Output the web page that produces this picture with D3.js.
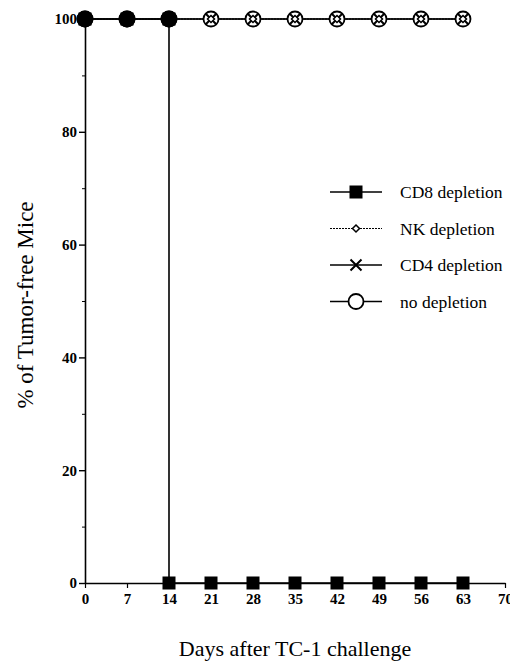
<!DOCTYPE html>
<html>
<head>
<meta charset="utf-8">
<script src="https://cdn.jsdelivr.net/npm/d3@7"></script>
<style>
  body { margin: 0; background: #fff; }
  text { font-family: "Liberation Serif", "DejaVu Serif", serif; fill: #000; }
</style>
</head>
<body>
<div id="chart"></div>
<script>
// days after challenge
var days = [0, 7, 14, 21, 28, 35, 42, 49, 56, 63];
// % tumor-free per group
var cd8 = [[0, 100], [7, 100], [14, 100], [14, 0], [21, 0], [28, 0], [35, 0], [42, 0], [49, 0], [56, 0], [63, 0]];
var nk = [100, 100, 100, 100, 100, 100, 100, 100, 100, 100];
var cd4 = [100, 100, 100, 100, 100, 100, 100, 100, 100, 100];
var noDep = [100, 100, 100, 100, 100, 100, 100, 100, 100, 100];
var xTicks = [0, 7, 14, 21, 28, 35, 42, 49, 56, 63, 70];
var yTicks = [0, 20, 40, 60, 80, 100];
var yMinor = [10, 30, 50, 70, 90];
var legendNames = ["CD8 depletion", "NK depletion", "CD4 depletion", "no depletion"];

var w = 510, h = 662;

var svg = d3.select("#chart").append("svg")
  .attr("width", w)
  .attr("height", h);

var x = d3.scaleLinear().domain([0, 70]).range([85, 505]);
var y = d3.scaleLinear().domain([0, 100]).range([583, 19]);

// axes
svg.append("g")
  .attr("transform", "translate(0," + y(0) + ")")
  .call(d3.axisBottom(x).tickValues(xTicks).tickSize(5).tickSizeOuter(0))
  .call(function(g) {
    g.select(".domain").attr("stroke-width", 1.6);
    g.selectAll(".tick line").attr("stroke-width", 1.2);
    g.selectAll("text").attr("font-size", "15px").attr("font-weight", "bold")
      .attr("font-family", "Liberation Serif").attr("dy", "0.85em");
  });

svg.append("g")
  .attr("transform", "translate(" + x(0) + ",0)")
  .call(d3.axisLeft(y).tickValues(yTicks).tickSize(6).tickSizeOuter(0).tickPadding(2))
  .call(function(g) {
    g.select(".domain").attr("stroke-width", 1.6);
    g.selectAll(".tick line").attr("stroke-width", 1.4);
    g.selectAll("text").attr("font-size", "15px").attr("font-weight", "bold")
      .attr("font-family", "Liberation Serif");
  });

svg.append("g")
  .attr("transform", "translate(" + x(0) + ",0)")
  .call(d3.axisLeft(y).tickValues(yMinor).tickSize(3).tickFormat(""))
  .call(function(g) { g.select(".domain").remove(); });

// lines
var line = d3.line().x(function(d) { return x(d[0]); }).y(function(d) { return y(d[1]); });
function pairs(vals) { return days.map(function(d, i) { return [d, vals[i]]; }); }

svg.append("path").datum(pairs(noDep)).attr("d", line)
  .attr("fill", "none").attr("stroke", "#000").attr("stroke-width", 1.6);
svg.append("path").datum(pairs(nk)).attr("d", line)
  .attr("fill", "none").attr("stroke", "#000").attr("stroke-width", 1).attr("stroke-dasharray", "2,1");
svg.append("path").datum(pairs(cd4)).attr("d", line)
  .attr("fill", "none").attr("stroke", "#000").attr("stroke-width", 1.2);
svg.append("path").datum(cd8).attr("d", line)
  .attr("fill", "none").attr("stroke", "#000").attr("stroke-width", 1.6);

// markers
function circleM(g, cx, cy) {
  g.append("circle").attr("cx", cx).attr("cy", cy).attr("r", 7.5)
    .attr("fill", "#fff").attr("stroke", "#000").attr("stroke-width", 1.8);
}
function crossM(g, cx, cy) {
  var s = 5.5;
  g.append("path").attr("d", "M" + (cx - s) + "," + (cy - s) + "L" + (cx + s) + "," + (cy + s) +
      "M" + (cx - s) + "," + (cy + s) + "L" + (cx + s) + "," + (cy - s))
    .attr("stroke", "#000").attr("stroke-width", 2);
}
function diamondM(g, cx, cy) {
  var s = 3.5;
  g.append("path").attr("d", "M" + cx + "," + (cy - s) + "L" + (cx + s) + "," + cy +
      "L" + cx + "," + (cy + s) + "L" + (cx - s) + "," + cy + "Z")
    .attr("fill", "#fff").attr("stroke", "#000").attr("stroke-width", 1.5);
}
function squareM(g, cx, cy) {
  g.append("rect").attr("x", cx - 6.5).attr("y", cy - 6.5).attr("width", 13).attr("height", 13)
    .attr("fill", "#000");
}

var marks = svg.append("g");
days.forEach(function(d, i) { circleM(marks, x(d), y(noDep[i])); });
days.forEach(function(d, i) { crossM(marks, x(d), y(cd4[i])); });
days.forEach(function(d, i) { diamondM(marks, x(d), y(nk[i])); });
cd8.forEach(function(p) {
  squareM(marks, x(p[0]), y(p[1]));
  // the overlapped points on the top look like solid blobs
  if (p[1] === 100) {
    marks.append("circle").attr("cx", x(p[0])).attr("cy", y(p[1])).attr("r", 8.5).attr("fill", "#000");
  }
});

// legend
var lg = svg.append("g").attr("transform", "translate(330,192)");
var markerFns = [squareM, diamondM, crossM, circleM];
var dashes = [null, "2,1", null, null];
legendNames.forEach(function(name, i) {
  var yy = i * 36.5;
  lg.append("line").attr("x1", 0).attr("x2", 52).attr("y1", yy).attr("y2", yy)
    .attr("stroke", "#000").attr("stroke-width", i === 1 ? 1.2 : 1.6)
    .attr("stroke-dasharray", dashes[i]);
  markerFns[i](lg, 26, yy);
  lg.append("text").attr("x", 70).attr("y", yy).attr("dy", "0.35em")
    .attr("font-size", "17.5px").text(name);
});

// axis titles
svg.append("text")
  .attr("x", 295).attr("y", 656)
  .attr("text-anchor", "middle")
  .attr("font-size", "22px")
  .text("Days after TC-1 challenge");

svg.append("text")
  .attr("transform", "translate(33,305) rotate(-90)")
  .attr("text-anchor", "middle")
  .attr("font-size", "23px")
  .text("% of Tumor-free Mice");
</script>
</body>
</html>
